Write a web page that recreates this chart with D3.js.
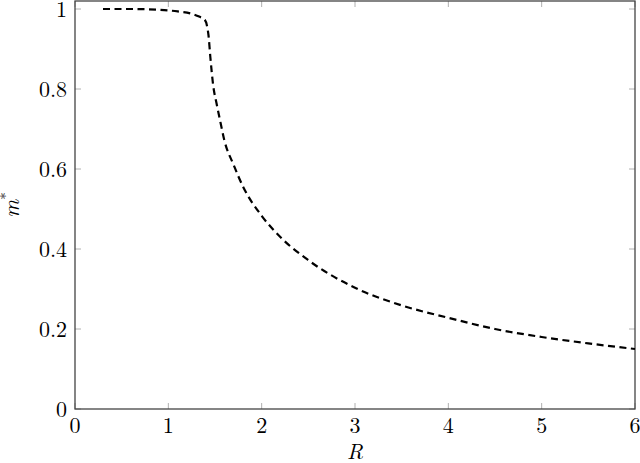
<!DOCTYPE html>
<html>
<head>
<meta charset="utf-8">
<script src="https://cdn.jsdelivr.net/npm/d3@7"></script>
<style>
  body { margin: 0; background: white; }
</style>
</head>
<body>
<svg id="chart"></svg>
<script>
// curve
var rValues = [0.3, 0.6, 0.9, 1.1, 1.25, 1.33, 1.39, 1.43, 1.45, 1.48, 1.52, 1.56, 1.6, 1.7, 1.8, 2.0, 2.2, 2.5, 3.0, 3.5, 4.0, 4.5, 5.0, 5.5, 6.0]
var mValues = [1.0, 1.0, 0.998, 0.994, 0.988, 0.981, 0.973, 0.935, 0.88, 0.81, 0.76, 0.715, 0.672, 0.61, 0.556, 0.483, 0.43, 0.372, 0.303, 0.259, 0.228, 0.2, 0.18, 0.164, 0.15]
var xTicks = [0, 1, 2, 3, 4, 5, 6]
var yTicks = [0, 0.2, 0.4, 0.6, 0.8, 1]

var svg = d3.select("#chart")
var dimensions = {
    width: 640,
    height: 463,
    margin: { top: 1, bottom: 54, right: 5, left: 75 }
}
svg.attr("width", dimensions.width).attr("height", dimensions.height)

var fontFamily = "'Latin Modern Roman', 'Liberation Serif', serif"

var x = d3.scaleLinear()
          .domain([0, 6])
          .range([dimensions.margin.left, dimensions.width - dimensions.margin.right])
var y = d3.scaleLinear()
          .domain([0, 1.02])
          .range([dimensions.height - dimensions.margin.bottom, dimensions.margin.top])

var tickLen = 6
var tickColor = "#b0b0b0"
var fontSize = 22

//plot box edges
var boxLeft = x.range()[0], boxRight = x.range()[1]
var boxBottom = y.range()[0], boxTop = y.range()[1]

//ticks, inward on all four sides
var tickG = svg.append("g").attr("stroke", tickColor).attr("stroke-width", 1)
xTicks.forEach(function(t) {
    tickG.append("line").attr("x1", x(t)).attr("x2", x(t)).attr("y1", boxBottom).attr("y2", boxBottom - tickLen)
    tickG.append("line").attr("x1", x(t)).attr("x2", x(t)).attr("y1", boxTop).attr("y2", boxTop + tickLen)
})
yTicks.forEach(function(t) {
    tickG.append("line").attr("x1", boxLeft).attr("x2", boxLeft + tickLen).attr("y1", y(t)).attr("y2", y(t))
    tickG.append("line").attr("x1", boxRight).attr("x2", boxRight - tickLen).attr("y1", y(t)).attr("y2", y(t))
})

//frame
svg.append("rect")
   .attr("x", boxLeft).attr("y", boxTop)
   .attr("width", boxRight - boxLeft).attr("height", boxBottom - boxTop)
   .attr("fill", "none")
   .attr("stroke", "#444")
   .attr("stroke-width", 1.3)

//tick labels
svg.append("g").selectAll("text")
   .data(xTicks).enter().append("text")
   .attr("x", d => x(d))
   .attr("y", boxBottom + 24)
   .attr("text-anchor", "middle")
   .style("font-family", fontFamily)
   .style("font-size", fontSize + "px")
   .text(d => d)

svg.append("g").selectAll("text")
   .data(yTicks).enter().append("text")
   .attr("x", boxLeft - 8)
   .attr("y", d => y(d) + 8)
   .attr("text-anchor", "end")
   .style("font-family", fontFamily)
   .style("font-size", fontSize + "px")
   .text(d => d)

//axis labels
svg.append("text")
   .attr("x", (boxLeft + boxRight) / 2)
   .attr("y", 459)
   .attr("text-anchor", "middle")
   .style("font-family", fontFamily)
   .style("font-size", fontSize + "px")
   .style("font-style", "italic")
   .text("R")

svg.append("text")
   .attr("transform", "translate(19," + ((boxTop + boxBottom) / 2) + ") rotate(-90)")
   .attr("text-anchor", "middle")
   .style("font-family", fontFamily)
   .style("font-size", fontSize + "px")
   .style("font-style", "italic")
   .html('m<tspan dy="-8" style="font-size:15px;font-style:normal">*</tspan>')

//the curve
var points = rValues.map((r, i) => [r, mValues[i]])
var line = d3.line()
             .x(d => x(d[0]))
             .y(d => y(d[1]))
             .curve(d3.curveMonotoneX)

svg.append("path")
   .attr("d", line(points))
   .attr("fill", "none")
   .attr("stroke", "black")
   .attr("stroke-width", 2.2)
   .attr("stroke-dasharray", "7,4.5")
</script>
</body>
</html>
